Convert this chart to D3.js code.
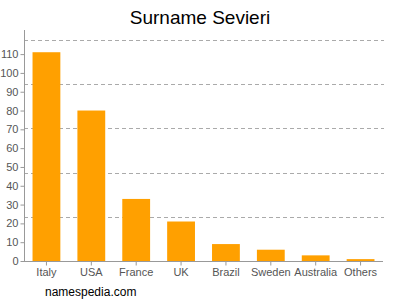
<!DOCTYPE html>
<html>
<head>
<meta charset="utf-8">
<script src="https://cdnjs.cloudflare.com/ajax/libs/d3/7.8.5/d3.min.js"></script>
<style>
  html, body { margin: 0; padding: 0; background: #fff; }
  svg { display: block; }
</style>
</head>
<body>
<script>
const categories = ["Italy", "USA", "France", "UK", "Brazil", "Sweden", "Australia", "Others"];
const values = [111, 80, 33, 21, 9, 6, 3, 1];
const yTicks = [0, 10, 20, 30, 40, 50, 60, 70, 80, 90, 100, 110];
const yMax = 117.5;
const gridCount = 5;

(function () {
const W = 400, H = 300;
const mLeft = 24, mRight = 383, mTop = 40, mBottom = 261;

const svg = d3.select("body").append("svg").attr("width", W).attr("height", H);

const x = d3.scaleBand().domain(categories).range([mLeft, mRight]).paddingInner(0.38).paddingOuter(0.19);
const y = d3.scaleLinear().domain([0, yMax]).range([mBottom, mTop]);

// grid lines
const gridVals = d3.range(1, gridCount + 1).map(i => yMax * i / gridCount);
svg.append("g").selectAll("line").data(gridVals).join("line")
  .attr("x1", mLeft).attr("x2", mRight + 1)
  .attr("y1", d => Math.round(y(d)) + 0.5).attr("y2", d => Math.round(y(d)) + 0.5)
  .attr("stroke", "#aaa").attr("stroke-width", 1).attr("stroke-dasharray", "4,3");

// bars
svg.append("g").selectAll("rect").data(categories).join("rect")
  .attr("x", d => x(d)).attr("width", x.bandwidth())
  .attr("y", (d, i) => y(values[i])).attr("height", (d, i) => mBottom - y(values[i]))
  .attr("fill", "#ffa000");

// y axis
const yAxis = d3.axisLeft(y).tickValues(yTicks).tickSize(4).tickPadding(2);
const gy = svg.append("g").attr("transform", `translate(${mLeft + 0.5},0)`).call(yAxis);
gy.select(".domain").attr("stroke", "#999").attr("d", `M0,${mTop - 10}V${mBottom + 0.5}`);
gy.selectAll(".tick line").attr("stroke", "#999");
gy.selectAll(".tick text").attr("fill", "#555").style("font-family", "Liberation Sans, Arial, sans-serif").style("font-size", "11px");

// x axis
const xAxis = d3.axisBottom(x).tickSize(4).tickPadding(3);
const gx = svg.append("g").attr("transform", `translate(0,${mBottom + 0.5})`).call(xAxis);
gx.select(".domain").attr("stroke", "#999").attr("d", `M${mLeft},0H${mRight}`);
gx.selectAll(".tick line").attr("stroke", "#999");
gx.selectAll(".tick text").attr("fill", "#555").style("font-family", "Liberation Sans, Arial, sans-serif").style("font-size", "11px");

// title
svg.append("text").attr("x", 200).attr("y", 24).attr("text-anchor", "middle")
  .style("font-family", "Liberation Sans, Arial, sans-serif").style("font-size", "19px").attr("fill", "#000")
  .text("Surname Sevieri");

// footer
svg.append("text").attr("x", 45).attr("y", 296)
  .style("font-family", "Liberation Sans, Arial, sans-serif").style("font-size", "12px").attr("fill", "#000")
  .text("namespedia.com");
})();
</script>
</body>
</html>
